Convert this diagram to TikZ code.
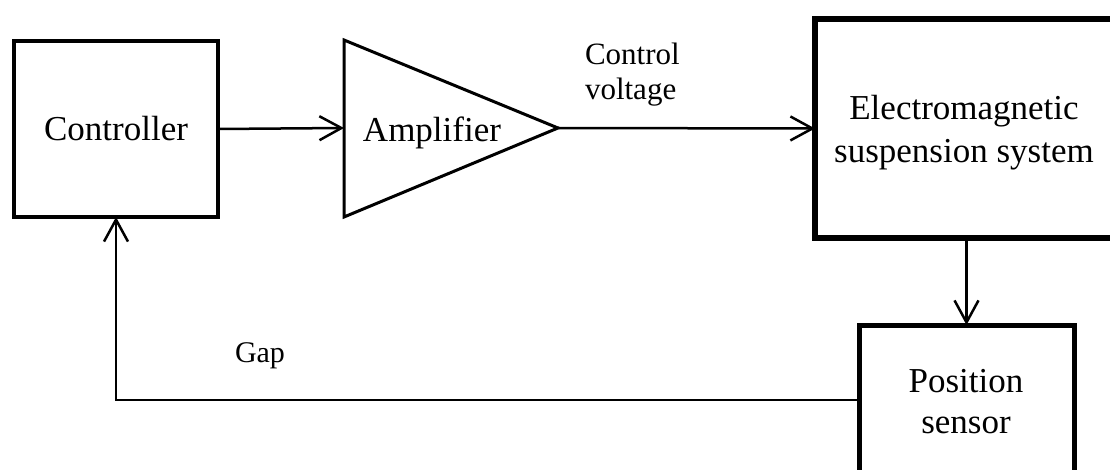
\documentclass[tikz,border=0pt]{standalone}
\usepackage{fontspec}
\setmainfont{Liberation Serif}
\usetikzlibrary{arrows.meta}
\tikzset{
  blockbox/.style={draw, rectangle, inner sep=0pt, outer sep=0pt, align=center,
    font=\fontsize{35}{43}\selectfont},
  conn/.style={line width=2.5pt, -{Straight Barb[length=22pt,width=24pt]}},
  amptri/.style={line width=3pt, line join=miter},
  lbl/.style={inner sep=0pt, outer sep=0pt}
}
\begin{document}
\begin{tikzpicture}[x=1pt,y=-1pt]
\useasboundingbox (0,0) rectangle (1110,470);
\clip (0,0) rectangle (1110,470);
\fill[white] (0,0) rectangle (1110,470);

\node[blockbox, line width=4.3pt, minimum width=204pt, minimum height=176pt] (ctrl) at (116,129) {Controller};

\coordinate (ampW) at (344,128);
\coordinate (ampE) at (558,128);
\coordinate (ampT) at (344,40);
\coordinate (ampB) at (344,217);
\draw[amptri] (ampT) -- (ampE) -- (ampB) -- cycle;
\node[lbl, anchor=base, font=\fontsize{35}{43}\selectfont] (amp) at (432,142) {Amplifier};

\node[blockbox, line width=6pt, minimum width=302pt, minimum height=219pt] (em) at (966,128.5) {};
\node[lbl, anchor=base, align=center, font=\fontsize{35}{43}\selectfont] (emtext) at (964,163) {Electromagnetic\\suspension system};

\node[blockbox, line width=5pt, minimum width=215pt, minimum height=150pt] (sensor) at (966.5,400) {};
\node[lbl, anchor=base, align=center, font=\fontsize{35}{41}\selectfont] (sensortext) at (966,433) {Position\\sensor};

\node[lbl, anchor=base west, align=left, font=\fontsize{31}{35}\selectfont] (cv) at (585,100) {Control\\voltage};
\node[lbl, anchor=base, font=\fontsize{30}{36}\selectfont] (gap) at (260,362) {Gap};

\draw[conn] (ctrl.east) -- (ampW);
\draw[conn] (ampE) -- (em.west);
\draw[conn] (em.south -| sensor.north) -- (sensor.north);
\draw[conn] (sensor.west) -| (ctrl.south);
\end{tikzpicture}
\end{document}
